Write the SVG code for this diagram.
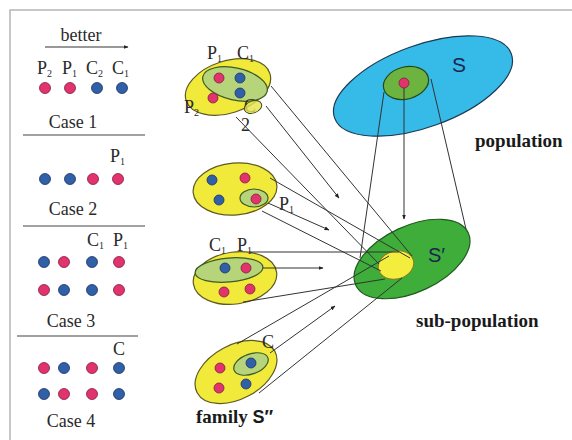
<svg xmlns="http://www.w3.org/2000/svg" width="572" height="440" viewBox="0 0 572 440">
  <defs>
    <marker id="ah" viewBox="0 0 10 10" refX="9" refY="5" markerWidth="5" markerHeight="5" orient="auto">
      <path d="M0,1 L10,5 L0,9 z" fill="#222"/>
    </marker>
    <style>
      .lbl { font-family: "Liberation Serif", "Times New Roman", serif; font-size: 18px; fill: #2a2a2a; }
      .sub { font-size: 10px; }
      .bold { font-family: "Liberation Serif", serif; font-weight: bold; font-size: 19px; fill: #1a1a1a; }
      .sans { font-family: "Liberation Sans", Arial, sans-serif; fill: #1c2550; }
      .pk { fill: #e3336c; stroke: #7a2040; stroke-width: 0.8; }
      .bl { fill: #2f60a8; stroke: #1d3060; stroke-width: 0.8; }
      .fam { fill: #f1ea3b; stroke: #5e5a20; stroke-width: 1.2; }
      .inner { fill: #b6d57a; stroke: #3c5a22; stroke-width: 1.2; }
      .ln { stroke: #333; stroke-width: 1; fill: none; }
      .sep { stroke: #444; stroke-width: 1.2; }
    </style>
  </defs>
  <rect width="572" height="440" fill="#fff"/>
  <!-- outer frame -->
  <path d="M10,440 L10,10 L572,10" fill="none" stroke="#b5b5b5" stroke-width="1.5"/>

  <!-- legend of cases -->
  <g id="legend">
    <text class="lbl" x="81" y="41" text-anchor="middle">better</text>
    <line x1="45" y1="47" x2="128" y2="47" class="ln" stroke-width="1.3" marker-end="url(#ah)"/>
    <text class="lbl" x="37" y="74" font-size="16">P<tspan class="sub" dy="3">2</tspan></text>
    <text class="lbl" x="62" y="74" font-size="16">P<tspan class="sub" dy="3">1</tspan></text>
    <text class="lbl" x="86" y="74" font-size="16">C<tspan class="sub" dy="3">2</tspan></text>
    <text class="lbl" x="112" y="74" font-size="16">C<tspan class="sub" dy="3">1</tspan></text>
    <circle class="pk" cx="45" cy="88" r="5.5"/>
    <circle class="pk" cx="70" cy="88" r="5.5"/>
    <circle class="bl" cx="97" cy="88" r="5.5"/>
    <circle class="bl" cx="122" cy="88" r="5.5"/>
    <text class="lbl" x="73" y="128" text-anchor="middle">Case 1</text>
    <line class="sep" x1="23" y1="135" x2="145" y2="135"/>

    <text class="lbl" x="110" y="162" font-size="16">P<tspan class="sub" dy="3">1</tspan></text>
    <circle class="bl" cx="45" cy="179" r="5.5"/>
    <circle class="bl" cx="70" cy="179" r="5.5"/>
    <circle class="pk" cx="93" cy="179" r="5.5"/>
    <circle class="pk" cx="118" cy="179" r="5.5"/>
    <text class="lbl" x="73" y="215" text-anchor="middle">Case 2</text>
    <line class="sep" x1="23" y1="226" x2="145" y2="226"/>

    <text class="lbl" x="87" y="246" font-size="16">C<tspan class="sub" dy="3">1</tspan></text>
    <text class="lbl" x="113" y="246" font-size="16">P<tspan class="sub" dy="3">1</tspan></text>
    <circle class="bl" cx="44" cy="262" r="5.5"/>
    <circle class="pk" cx="64" cy="262" r="5.5"/>
    <circle class="bl" cx="92" cy="262" r="5.5"/>
    <circle class="pk" cx="119" cy="262" r="5.5"/>
    <circle class="pk" cx="44" cy="290" r="5.5"/>
    <circle class="bl" cx="64" cy="290" r="5.5"/>
    <circle class="bl" cx="92" cy="290" r="5.5"/>
    <circle class="pk" cx="119" cy="290" r="5.5"/>
    <text class="lbl" x="71" y="327" text-anchor="middle">Case 3</text>
    <line class="sep" x1="17" y1="336" x2="138" y2="336"/>

    <text class="lbl" x="113" y="355" font-size="16">C</text>
    <circle class="pk" cx="44" cy="368" r="5.5"/>
    <circle class="bl" cx="64" cy="368" r="5.5"/>
    <circle class="pk" cx="92" cy="368" r="5.5"/>
    <circle class="bl" cx="119" cy="368" r="5.5"/>
    <circle class="bl" cx="44" cy="394" r="5.5"/>
    <circle class="pk" cx="64" cy="394" r="5.5"/>
    <circle class="pk" cx="92" cy="394" r="5.5"/>
    <circle class="bl" cx="119" cy="394" r="5.5"/>
    <text class="lbl" x="71" y="427" text-anchor="middle">Case 4</text>
  </g>

  <!-- population S -->
  <g id="population">
    <ellipse cx="423" cy="86" rx="94" ry="41" transform="rotate(-20 423 86)" fill="#36bbe9" stroke="#1d3a55" stroke-width="1.2"/>
    <ellipse cx="406" cy="83" rx="23" ry="16" transform="rotate(-15 406 83)" fill="#6db33f" stroke="#244a1a" stroke-width="1.2"/>
    <circle class="pk" cx="404" cy="83" r="5"/>
    <text class="sans" x="452" y="72" font-size="21">S</text>
    <text class="bold" x="475" y="147">population</text>
  </g>

  <!-- sub-population S' -->
  <g id="subpopulation">
    <ellipse cx="412" cy="259" rx="62" ry="33" transform="rotate(-25 412 259)" fill="#3ead3a" stroke="#1f5a1f" stroke-width="1.2"/>
    <ellipse cx="396" cy="265" rx="18" ry="14" transform="rotate(-15 396 265)" fill="#f3ee3e" stroke="#8a7a20" stroke-width="1"/>
    <text class="sans" x="428" y="262" font-size="20" fill="#111">S′</text>
    <text class="bold" x="416" y="327">sub-population</text>
  </g>

  <!-- families of S'' -->
  <g id="family1">
    <ellipse class="fam" cx="228" cy="87" rx="44" ry="26" transform="rotate(-18 228 87)"/>
    <ellipse class="inner" cx="235" cy="84" rx="33" ry="16" transform="rotate(13 235 84)"/>
    <text class="lbl" x="244" y="112" font-size="11">C</text>
    <ellipse cx="253" cy="107" rx="9" ry="6" transform="rotate(-20 253 107)" fill="#e6e24a" fill-opacity="0.8" stroke="#3c4a1a" stroke-width="1"/>
    <circle class="pk" cx="219" cy="78" r="5"/>
    <circle class="bl" cx="240" cy="78" r="5"/>
    <circle class="pk" cx="213" cy="98" r="5"/>
    <circle class="bl" cx="240" cy="93" r="5"/>
    <text class="lbl" x="207" y="59" font-size="16">P<tspan class="sub" dy="3">1</tspan></text>
    <text class="lbl" x="237" y="59" font-size="16">C<tspan class="sub" dy="3">1</tspan></text>
    <text class="lbl" x="184" y="113" font-size="16">P<tspan class="sub" dy="3">2</tspan></text>
    <text class="lbl" x="241" y="131" font-size="10">2</text>
  </g>
  <g id="family2">
    <ellipse class="fam" cx="235" cy="189" rx="42" ry="26" transform="rotate(-5 235 189)"/>
    <circle class="bl" cx="212" cy="180" r="5"/>
    <circle class="pk" cx="245" cy="178" r="5"/>
    <circle class="bl" cx="219" cy="200" r="5"/>
    <ellipse class="inner" cx="254" cy="198" rx="14" ry="9"/>
    <circle class="pk" cx="256" cy="199" r="5"/>
    <text class="lbl" x="279" y="210" font-size="16">P<tspan class="sub" dy="3">1</tspan></text>
  </g>
  <g id="family3">
    <ellipse class="fam" cx="235" cy="278" rx="42" ry="26" transform="rotate(-8 235 278)"/>
    <ellipse class="inner" cx="229" cy="270" rx="34" ry="12" transform="rotate(-5 229 270)"/>
    <circle class="bl" cx="225" cy="268" r="5"/>
    <circle class="pk" cx="246" cy="268" r="5"/>
    <circle class="pk" cx="224" cy="292" r="5"/>
    <circle class="pk" cx="250" cy="289" r="5"/>
    <text class="lbl" x="209" y="251" font-size="16">C<tspan class="sub" dy="3">1</tspan></text>
    <text class="lbl" x="237" y="251" font-size="16">P<tspan class="sub" dy="3">1</tspan></text>
  </g>
  <g id="family4">
    <ellipse class="fam" cx="236" cy="372" rx="44" ry="27" transform="rotate(-28 236 372)"/>
    <ellipse class="inner" cx="251" cy="364" rx="18" ry="10" transform="rotate(-20 251 364)"/>
    <circle class="bl" cx="251" cy="363" r="5"/>
    <circle class="pk" cx="220" cy="368" r="5"/>
    <circle class="pk" cx="219" cy="388" r="5"/>
    <circle class="bl" cx="246" cy="384" r="5"/>
    <text class="lbl" x="262" y="348" font-size="16">C</text>
    <text x="196" y="423" font-family="Liberation Serif, serif" font-weight="bold" font-size="19" fill="#1a1a1a">family <tspan font-family="Liberation Sans, Arial, sans-serif" font-size="18">S″</tspan></text>
  </g>

  <!-- connectors -->
  <g id="connectors">
    <!-- population to sub-population -->
    <line class="ln" x1="384" y1="92" x2="360" y2="258"/>
    <line class="ln" x1="431" y1="79" x2="466" y2="229"/>
    <line class="ln" x1="404" y1="88" x2="404" y2="219" marker-end="url(#ah)"/>
    <!-- family 1 -->
    <line class="ln" x1="271" y1="86" x2="412" y2="256"/>
    <line class="ln" x1="236" y1="117" x2="379" y2="264"/>
    <line class="ln" x1="266" y1="106" x2="339" y2="198" marker-end="url(#ah)"/>
    <!-- family 2 -->
    <line class="ln" x1="270" y1="178" x2="410" y2="258"/>
    <line class="ln" x1="262" y1="211" x2="381" y2="271"/>
    <line class="ln" x1="268" y1="203" x2="329" y2="230" marker-end="url(#ah)"/>
    <!-- family 3 -->
    <line class="ln" x1="249" y1="252" x2="399" y2="252"/>
    <line class="ln" x1="263" y1="268" x2="323" y2="268" marker-end="url(#ah)"/>
    <line class="ln" x1="243" y1="302" x2="385" y2="279"/>
    <!-- family 4 -->
    <line class="ln" x1="237" y1="344" x2="389" y2="256"/>
    <line class="ln" x1="270" y1="353" x2="335" y2="306" marker-end="url(#ah)"/>
    <line class="ln" x1="259" y1="393" x2="402" y2="278"/>
  </g>
</svg>
